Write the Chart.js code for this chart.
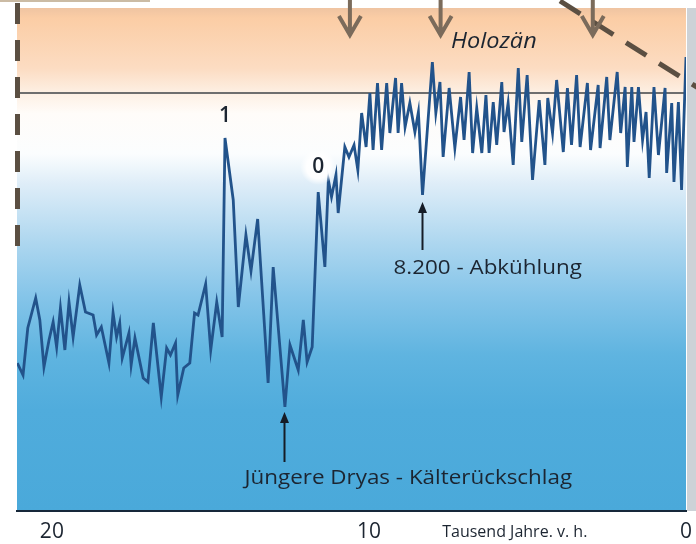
<!DOCTYPE html>
<html lang="de">
<head>
<meta charset="utf-8">
<title>Klimakurve Holozän</title>
<script src="https://cdn.jsdelivr.net/npm/chart.js@4.4.1/dist/chart.umd.min.js"></script>
<style>
  html, body { margin: 0; padding: 0; background: #fff; }
  #wrap { width: 696px; height: 544px; }
</style>
</head>
<body>
<div id="wrap"><canvas id="chart" width="696" height="544"></canvas></div>
<script>
// Zeitachse in Tausend Jahren vor heute
const yearsKa = [
  21.09, 20.91, 20.76, 20.51, 20.38, 20.25, 20.09, 19.96, 19.85, 19.73,
  19.59, 19.46, 19.33, 19.12, 18.94, 18.70, 18.59, 18.44, 18.20, 18.07,
  17.96, 17.86, 17.78, 17.57, 17.50, 17.38, 17.12, 16.97, 16.80, 16.55,
  16.38, 16.26, 16.10, 16.03, 15.84, 15.65, 15.50, 15.39, 15.15, 14.99,
  14.80, 14.63, 14.54, 14.28, 14.12, 13.88, 13.72, 13.51, 13.18, 13.02,
  12.65, 12.49, 12.23, 12.07, 11.95, 11.79, 11.60, 11.39, 11.28, 11.18,
  11.04, 10.97, 10.76, 10.63, 10.47, 10.35, 10.23, 10.09, 9.97, 9.87,
  9.73, 9.60, 9.44, 9.34, 9.16, 9.08, 8.97, 8.86, 8.71, 8.55,
  8.44, 8.31, 8.00, 7.89, 7.76, 7.66, 7.47, 7.29, 7.11, 7.00,
  6.84, 6.73, 6.60, 6.44, 6.31, 6.21, 6.08, 5.97, 5.81, 5.74,
  5.61, 5.45, 5.29, 5.18, 5.01, 4.84, 4.63, 4.45, 4.36, 4.21,
  4.08, 3.87, 3.74, 3.61, 3.45, 3.34, 3.11, 3.01, 2.77, 2.71,
  2.50, 2.40, 2.17, 2.06, 1.92, 1.85, 1.71, 1.64, 1.50, 1.37,
  1.26, 1.16, 1.01, 0.87, 0.66, 0.61, 0.45, 0.38, 0.24, 0.14, 0.00
];

// Temperatur-Proxy (relative Einheit, 0 = unten, 100 = oben)
const proxyValues = [
  29.6, 27.2, 36.6, 42.6, 38.2, 28.8, 34.2, 37.8, 32.8, 40.6,
  32.2, 41.8, 34.8, 45.2, 39.8, 39.2, 35.2, 36.8, 29.6, 39.6,
  34.8, 37.6, 30.6, 35.6, 29.2, 34.6, 26.6, 25.8, 37.6, 22.8,
  32.6, 31.2, 33.6, 23.2, 28.6, 29.6, 39.6, 39.2, 45.4, 32.2,
  41.8, 34.8, 74.6, 62.2, 40.8, 55.2, 48.0, 58.4, 25.6, 48.8,
  20.8, 33.2, 28.2, 38.2, 29.8, 32.8, 63.8, 48.8, 66.2, 62.8,
  67.2, 59.6, 72.8, 70.8, 73.2, 68.2, 79.6, 72.8, 83.6, 72.2,
  85.6, 72.2, 85.6, 75.6, 86.6, 75.6, 85.6, 76.8, 81.6, 75.8,
  79.8, 63.2, 89.8, 79.6, 85.8, 70.8, 84.6, 72.6, 82.8, 74.2,
  87.8, 71.6, 80.6, 71.6, 83.2, 71.6, 81.8, 73.2, 85.8, 75.8,
  81.6, 69.2, 88.6, 73.8, 87.2, 66.2, 82.2, 69.2, 82.6, 75.6,
  86.2, 71.8, 84.6, 73.2, 87.2, 72.8, 85.6, 72.2, 85.2, 72.6,
  86.8, 74.2, 87.8, 75.6, 84.8, 68.8, 84.8, 73.8, 84.8, 74.2,
  79.8, 66.6, 84.8, 71.2, 84.6, 67.6, 81.6, 65.8, 81.8, 64.2, 90.8
];

const tickYears = [20, 10, 0];
const holoceneLevel = 83.6;          // waagerechte Linie
const boundaryYears = [10.6, 7.74, 2.94]; // Pfeile oben
const xMaxKa = 21.1;
const yMax = 100.6;

// Ereignisse: Index im Datensatz + Beschriftung
const peakLabels = [
  { index: 42, text: '1', dy: -22 },
  { index: 56, text: '0', dy: -25, halo: true }
];
const events = [
  { index: 81, text: '8.200 - Abkühlung', tipGap: 7, len: 48, textDx: -29, textDy: 73 },
  { index: 50, text: 'Jüngere Dryas - Kälterückschlag', tipGap: 5, len: 50, textDx: -40, textDy: 71 }
];

const points = yearsKa.map((x, i) => ({ x: x, y: proxyValues[i] }));
const levelLine = [{ x: xMaxKa, y: holoceneLevel }, { x: 0, y: holoceneLevel }];

const textColor = '#1c2531';

// Hintergrundverlauf
const backgroundPlugin = {
  id: 'background',
  beforeDraw(chart) {
    const { ctx, chartArea: a } = chart;
    ctx.save();
    ctx.fillStyle = '#ffffff';
    ctx.fillRect(0, 0, chart.width, chart.height);

    const g = ctx.createLinearGradient(0, a.top, 0, a.bottom);
    g.addColorStop(0.00, '#efc4a2');
    g.addColorStop(0.02, '#fbcda5');
    g.addColorStop(0.12, '#fcdcc2');
    g.addColorStop(0.17, '#fdf0e4');
    g.addColorStop(0.21, '#fffcf9');
    g.addColorStop(0.29, '#fbfdfe');
    g.addColorStop(0.35, '#deedf8');
    g.addColorStop(0.47, '#acd6ef');
    g.addColorStop(0.57, '#86c5e9');
    g.addColorStop(0.69, '#5fb4e0');
    g.addColorStop(0.80, '#50acdc');
    g.addColorStop(1.00, '#4aa9da');
    ctx.fillStyle = g;
    ctx.fillRect(a.left, a.top, a.right - a.left, a.bottom - a.top);

    // grauer Rand rechts
    ctx.fillStyle = '#cdd2d7';
    ctx.fillRect(a.right + 1, a.top, chart.width - a.right - 1, a.bottom - a.top);

    // feine Linie oben links
    ctx.fillStyle = '#cbbba4';
    ctx.fillRect(0, 0, 150, 2);
    ctx.restore();
  }
};

function drawDownArrow(ctx, x, y0, y1) {
  ctx.beginPath();
  ctx.moveTo(x, y0);
  ctx.lineTo(x, y1);
  ctx.moveTo(x - 11, y1 - 19);
  ctx.lineTo(x, y1);
  ctx.lineTo(x + 11, y1 - 19);
  ctx.stroke();
}

function drawUpArrow(ctx, x, tip, bottom) {
  ctx.beginPath();
  ctx.moveTo(x, bottom);
  ctx.lineTo(x, tip + 8);
  ctx.stroke();
  ctx.beginPath();
  ctx.moveTo(x, tip);
  ctx.lineTo(x - 4.5, tip + 11);
  ctx.lineTo(x + 4.5, tip + 11);
  ctx.closePath();
  ctx.fill();
}

// Text etwas breiter laufen lassen (Schrift im Original ist breiter)
function fillWide(ctx, text, x, y, sx) {
  ctx.save();
  ctx.translate(x, y);
  ctx.scale(sx, 1);
  ctx.fillText(text, 0, 0);
  ctx.restore();
}

const annotationPlugin = {
  id: 'annotations',
  afterDatasetsDraw(chart) {
    const { ctx, scales: { x: xs, y: ys } } = chart;
    ctx.save();

    // gestrichelte Linien (Bildausschnitt)
    ctx.strokeStyle = '#5b4f42';
    ctx.lineWidth = 5;
    ctx.setLineDash([21, 16]);
    ctx.beginPath();
    ctx.moveTo(17.5, 3);
    ctx.lineTo(17.5, 250);
    ctx.stroke();
    ctx.setLineDash([24, 15]);
    ctx.beginPath();
    ctx.moveTo(560, 1);
    ctx.lineTo(700, 89);
    ctx.stroke();
    ctx.setLineDash([]);

    // Pfeile oben
    ctx.strokeStyle = '#7b6b5b';
    ctx.lineWidth = 4;
    ctx.lineJoin = 'miter';
    boundaryYears.forEach(yr => drawDownArrow(ctx, xs.getPixelForValue(yr), 0, 35));

    // Holozän
    ctx.fillStyle = textColor;
    ctx.font = 'italic 21px "Open Sans", sans-serif';
    ctx.textAlign = 'left';
    ctx.textBaseline = 'alphabetic';
    fillWide(ctx, 'Holozän', 451, 48, 1.12);

    // Beschriftung der Spitzen
    peakLabels.forEach(p => {
      const px = xs.getPixelForValue(yearsKa[p.index]);
      const py = ys.getPixelForValue(proxyValues[p.index]) + p.dy;
      if (p.halo) {
        const rg = ctx.createRadialGradient(px, py, 2, px, py, 18);
        rg.addColorStop(0, 'rgba(255,255,255,1)');
        rg.addColorStop(0.6, 'rgba(255,255,255,0.95)');
        rg.addColorStop(1, 'rgba(255,255,255,0)');
        ctx.fillStyle = rg;
        ctx.beginPath();
        ctx.arc(px, py, 18, 0, Math.PI * 2);
        ctx.fill();
      }
      ctx.fillStyle = textColor;
      ctx.font = '600 21px "Open Sans", sans-serif';
      ctx.textAlign = 'center';
      ctx.textBaseline = 'middle';
      ctx.fillText(p.text, px, py);
    });

    // Ereignisse mit Pfeil
    ctx.strokeStyle = '#151c26';
    ctx.fillStyle = '#151c26';
    ctx.lineWidth = 2;
    events.forEach(e => {
      const px = Math.round(xs.getPixelForValue(yearsKa[e.index])) - 0.5;
      const py = ys.getPixelForValue(proxyValues[e.index]);
      drawUpArrow(ctx, px, py + e.tipGap, py + e.tipGap + e.len);
      ctx.fillStyle = textColor;
      ctx.font = '20px "Open Sans", sans-serif';
      ctx.textAlign = 'left';
      ctx.textBaseline = 'middle';
      fillWide(ctx, e.text, px + e.textDx, py + e.textDy, 1.12);
      ctx.fillStyle = '#151c26';
    });

    // Achsentitel
    ctx.fillStyle = textColor;
    ctx.font = '16px "Open Sans", sans-serif';
    ctx.textAlign = 'center';
    ctx.textBaseline = 'middle';
    ctx.fillText('Tausend Jahre. v. h.', xs.getPixelForValue(5.4), 532);

    ctx.restore();
  }
};

new Chart(document.getElementById('chart'), {
  type: 'line',
  data: {
    datasets: [
      {
        label: 'Holozän-Niveau',
        data: levelLine,
        borderColor: '#6e6e6e',
        borderWidth: 2,
        pointRadius: 0,
        order: 2
      },
      {
        label: 'Temperatur',
        data: points,
        borderColor: '#22538b',
        borderWidth: 2.8,
        pointRadius: 0,
        tension: 0,
        order: 1
      }
    ]
  },
  options: {
    responsive: false,
    animation: false,
    devicePixelRatio: 1,
    layout: { padding: { left: 17, right: 10, top: 8, bottom: 0 } },
    plugins: {
      legend: { display: false },
      tooltip: { enabled: false }
    },
    scales: {
      x: {
        type: 'linear',
        reverse: true,
        min: 0,
        max: xMaxKa,
        grid: { display: false, drawTicks: false },
        border: { display: true, color: '#16283a', width: 2 },
        afterBuildTicks(scale) {
          scale.ticks = tickYears.map(v => ({ value: v }));
        },
        afterFit(scale) {
          scale.height = 33;
          scale.paddingLeft = 0;
          scale.paddingRight = 0;
        },
        ticks: {
          padding: 8,
          color: textColor,
          font: { family: '"Open Sans", sans-serif', size: 21 },
          callback: v => String(v)
        }
      },
      y: {
        display: false,
        min: 0,
        max: yMax
      }
    }
  },
  plugins: [backgroundPlugin, annotationPlugin]
});
</script>
</body>
</html>
